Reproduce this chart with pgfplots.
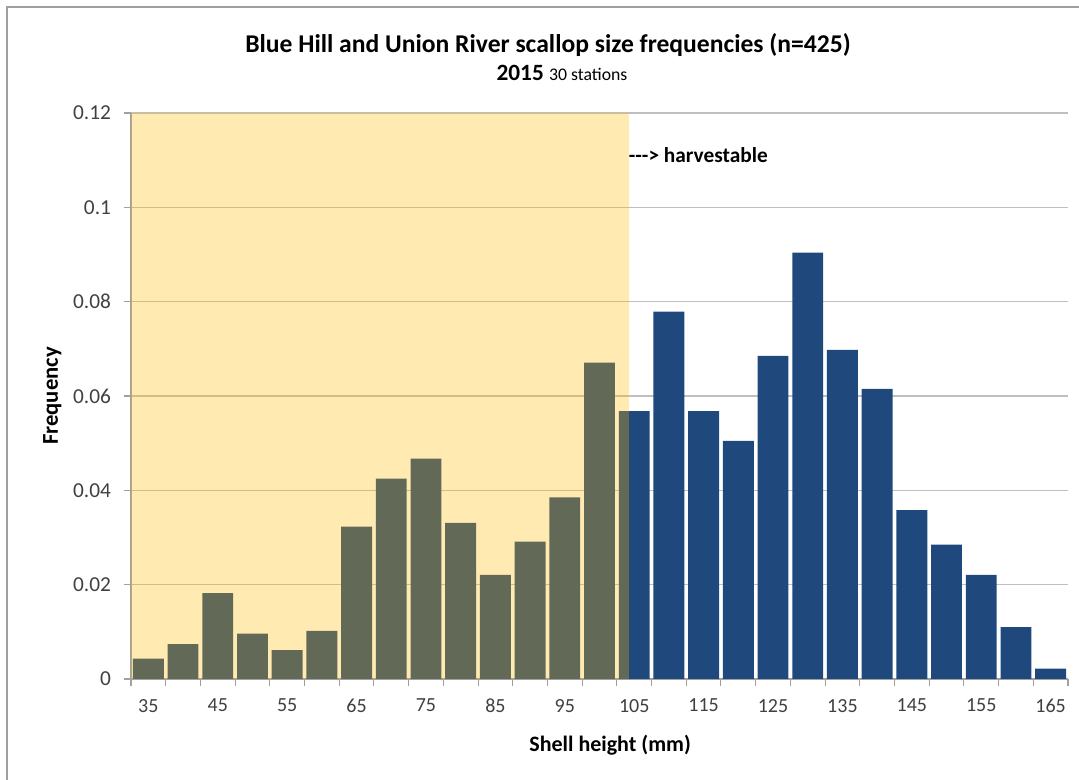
\documentclass[border=0pt]{standalone}
\usepackage{pgfplots}
\pgfplotsset{compat=1.18}
\usepackage{fontspec}
\setmainfont{Carlito}
\definecolor{barblue}{RGB}{31,73,125}
\definecolor{overlayc}{RGB}{255,185,0}
\definecolor{gridc}{RGB}{191,191,191}
\definecolor{axisc}{RGB}{160,160,160}
\begin{document}
\begin{tikzpicture}[x=0.75pt,y=0.75pt]
\useasboundingbox (-131,-101) rectangle (948,679);
\draw[axisc, line width=1.5pt] (-124,-101) -- (-124,672) -- (948,672);
\node[font=\bfseries\fontsize{19.2pt}{21pt}\selectfont] at (417,634) {Blue Hill and Union River scallop size frequencies (n=425)};
\node[font=\fontsize{17.5pt}{19pt}\selectfont] at (431,606) {\textbf{2015} {\fontsize{13.3pt}{15pt}\selectfont 30 stations}};
\begin{axis}[
  at={(0,0)}, anchor=south west,
  scale only axis, width=702.75pt, height=424.5pt,
  xmin=32.5, xmax=167.5, ymin=0, ymax=0.12,
  axis x line*=bottom, axis y line*=left,
  axis line style={axisc, line width=0.8pt, -},
  xtick={35,45,...,165},
  minor xtick={32.5,37.5,...,167.5},
  ytick={0,0.02,0.04,0.06,0.08,0.1,0.12},
  scaled y ticks=false,
  yticklabel style={/pgf/number format/fixed, /pgf/number format/precision=2, xshift=-6pt, font=\fontsize{16pt}{18pt}\selectfont},
  /pgf/number format/assume math mode=true,
  tick align=outside,
  major x tick style={draw=none},
  minor x tick style={axisc, line width=0.8pt},
  major y tick style={axisc, line width=0.8pt},
  minor tick length=5.5pt,
  major tick length=5.5pt,
  ymajorgrids,
  major grid style={gridc, line width=0.9pt},
  tick label style={font=\fontsize{15pt}{17pt}\selectfont, text=black!75},
  xticklabel style={yshift=-6pt},
  xlabel={Shell height (mm)},
  ylabel={Frequency},
  label style={font=\bfseries\fontsize{16.5pt}{18pt}\selectfont},
  xlabel style={at={(axis description cs:0.5,0)}, anchor=center, yshift=-49.5pt, xshift=8pt},
  ylabel style={at={(axis description cs:0,0.5)}, anchor=center, yshift=59pt, font=\bfseries\fontsize{17pt}{19pt}\selectfont},
  ybar, bar width=4.45,
  clip=false,
]
\addplot[fill=barblue, draw=none] coordinates {
(35,0.0043) (40,0.0074) (45,0.0182) (50,0.0096) (55,0.0061) (60,0.0102)
(65,0.0323) (70,0.0425) (75,0.0467) (80,0.0331) (85,0.0221) (90,0.0291)
(95,0.0385) (100,0.0671) (105,0.0568) (110,0.0779) (115,0.0568) (120,0.0505)
(125,0.0685) (130,0.0904) (135,0.0698) (140,0.0615) (145,0.0358) (150,0.0285)
(155,0.0221) (160,0.0110) (165,0.0022)
};
\fill[overlayc, opacity=0.3] (axis cs:32.5,0) rectangle (axis cs:104.2,0.12);
\node[anchor=west, inner sep=0pt, font=\bfseries\fontsize{16pt}{18pt}\selectfont] at (axis cs:104.2,0.111) {{-}{-}-> harvestable};
\end{axis}
\end{tikzpicture}
\end{document}
